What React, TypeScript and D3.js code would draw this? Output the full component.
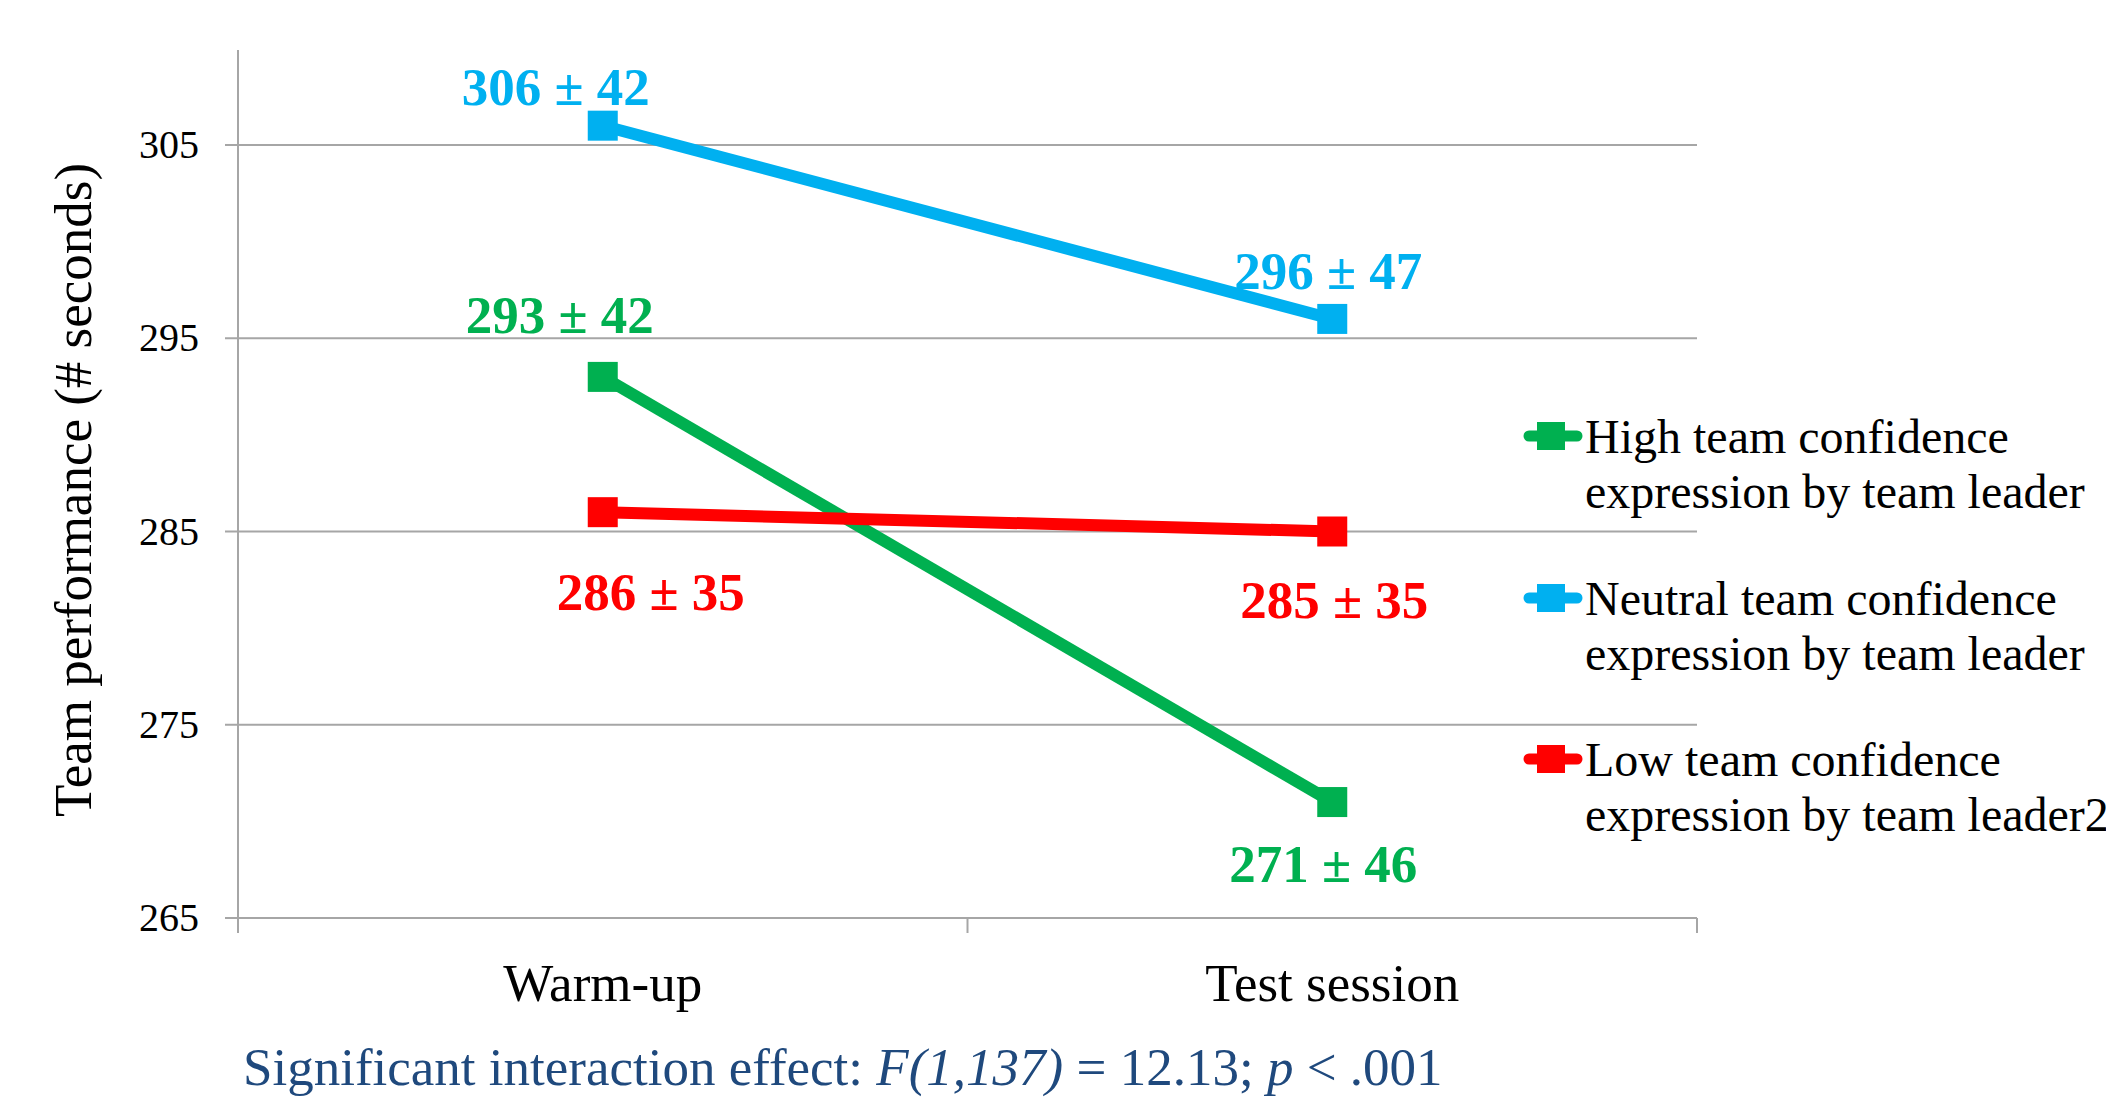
import React from "react";
import * as d3 from "d3";

const categories = ["Warm-up", "Test session"];
const seriesNames = [
  ["High team confidence", "expression by team leader"],
  ["Neutral team confidence", "expression by team leader"],
  ["Low team confidence", "expression by team leader2"],
];
const seriesColors = ["#00B050", "#00B0F0", "#FF0000"];
const highValues = [293, 271];
const neutralValues = [306, 296];
const lowValues = [286, 285];
const highSD = [42, 46];
const neutralSD = [42, 47];
const lowSD = [35, 35];
const yTicks = [265, 275, 285, 295, 305];
const footnote = ["Significant interaction effect: ", "F(1,137)", " = 12.13; ", "p", " < .001"];

const W = 2106;
const H = 1109;
const serif = "'Liberation Serif', 'Times New Roman', serif";

export default function App() {
  const x0 = 238, x1 = 1697;
  const x = d3.scaleBand<string>().domain(categories).range([x0, x1]);
  const y = d3.scaleLinear().domain([265, 305]).range([918, 145]);
  const cx = (c: string) => (x(c) as number) + x.bandwidth() / 2;

  const series = [
    { vals: highValues, sd: highSD, color: seriesColors[0], names: seriesNames[0],
      lab: [{ dx: -43, dy: -44 }, { dx: -9, dy: 80 }] },
    { vals: neutralValues, sd: neutralSD, color: seriesColors[1], names: seriesNames[1],
      lab: [{ dx: -47, dy: -21 }, { dx: -4, dy: -30 }] },
    { vals: lowValues, sd: lowSD, color: seriesColors[2], names: seriesNames[2],
      lab: [{ dx: 48, dy: 98 }, { dx: 2, dy: 86 }] },
  ];

  const line = d3
    .line<number>()
    .x((_, i) => cx(categories[i]))
    .y((d) => y(d));

  const gridColor = "#A6A6A6";
  const ms = 30;
  const legendY = [436, 598, 759];

  return (
    <svg width={W} height={H} style={{ position: "absolute", left: 0, top: 0, background: "#fff" }}>
      {/* gridlines */}
      {yTicks.map((t) => (
        <line key={t} x1={x0 - 13} x2={x1} y1={y(t)} y2={y(t)} stroke={gridColor} strokeWidth={2} />
      ))}
      {/* y axis */}
      <line x1={x0} x2={x0} y1={50} y2={933} stroke={gridColor} strokeWidth={2} />
      {/* x ticks */}
      {[x0, x0 + x.bandwidth(), x1].map((v, i) => (
        <line key={i} x1={v} x2={v} y1={y(265)} y2={933} stroke={gridColor} strokeWidth={2} />
      ))}
      {/* y tick labels */}
      {yTicks.map((t) => (
        <text key={t} x={199} y={y(t) + 13} textAnchor="end" fontFamily={serif} fontSize={40} fill="#000">
          {t}
        </text>
      ))}
      {/* y title */}
      <text
        transform={`translate(91, 490) rotate(-90)`}
        textAnchor="middle"
        fontFamily={serif}
        fontSize={53}
        fill="#000"
      >
        Team performance (# seconds)
      </text>
      {/* x labels */}
      {categories.map((c) => (
        <text key={c} x={cx(c)} y={1001} textAnchor="middle" fontFamily={serif} fontSize={53} fill="#000">
          {c}
        </text>
      ))}
      {/* lines */}
      {series.map((s, i) => (
        <path key={i} d={line(s.vals) || ""} fill="none" stroke={s.color} strokeWidth={12} />
      ))}
      {/* markers */}
      {series.map((s, i) =>
        s.vals.map((v, j) => (
          <rect
            key={`${i}-${j}`}
            x={cx(categories[j]) - ms / 2}
            y={y(v) - ms / 2}
            width={ms}
            height={ms}
            fill={s.color}
          />
        ))
      )}
      {/* data labels */}
      {series.map((s, i) =>
        s.vals.map((v, j) => (
          <text
            key={`l${i}-${j}`}
            x={cx(categories[j]) + s.lab[j].dx}
            y={y(v) + s.lab[j].dy}
            textAnchor="middle"
            fontFamily={serif}
            fontWeight="bold"
            fontSize={53}
            fill={s.color}
          >
            {`${v} ± ${s.sd[j]}`}
          </text>
        ))
      )}
      {/* legend */}
      {series.map((s, i) => (
        <g key={`lg${i}`}>
          <line
            x1={1529}
            x2={1577}
            y1={legendY[i]}
            y2={legendY[i]}
            stroke={s.color}
            strokeWidth={11}
            strokeLinecap="round"
          />
          <rect x={1537} y={legendY[i] - 14} width={28} height={28} fill={s.color} />
          <text x={1585} y={legendY[i] + 17} fontFamily={serif} fontSize={48} fill="#000">
            {s.names[0]}
          </text>
          <text x={1585} y={legendY[i] + 72} fontFamily={serif} fontSize={48} fill="#000">
            {s.names[1]}
          </text>
        </g>
      ))}
      {/* footnote */}
      <text x={243} y={1085} fontFamily={serif} fontSize={53} fill="#1F497D">
        <tspan>{footnote[0]}</tspan>
        <tspan fontStyle="italic">{footnote[1]}</tspan>
        <tspan>{footnote[2]}</tspan>
        <tspan fontStyle="italic">{footnote[3]}</tspan>
        <tspan>{footnote[4]}</tspan>
      </text>
    </svg>
  );
}
